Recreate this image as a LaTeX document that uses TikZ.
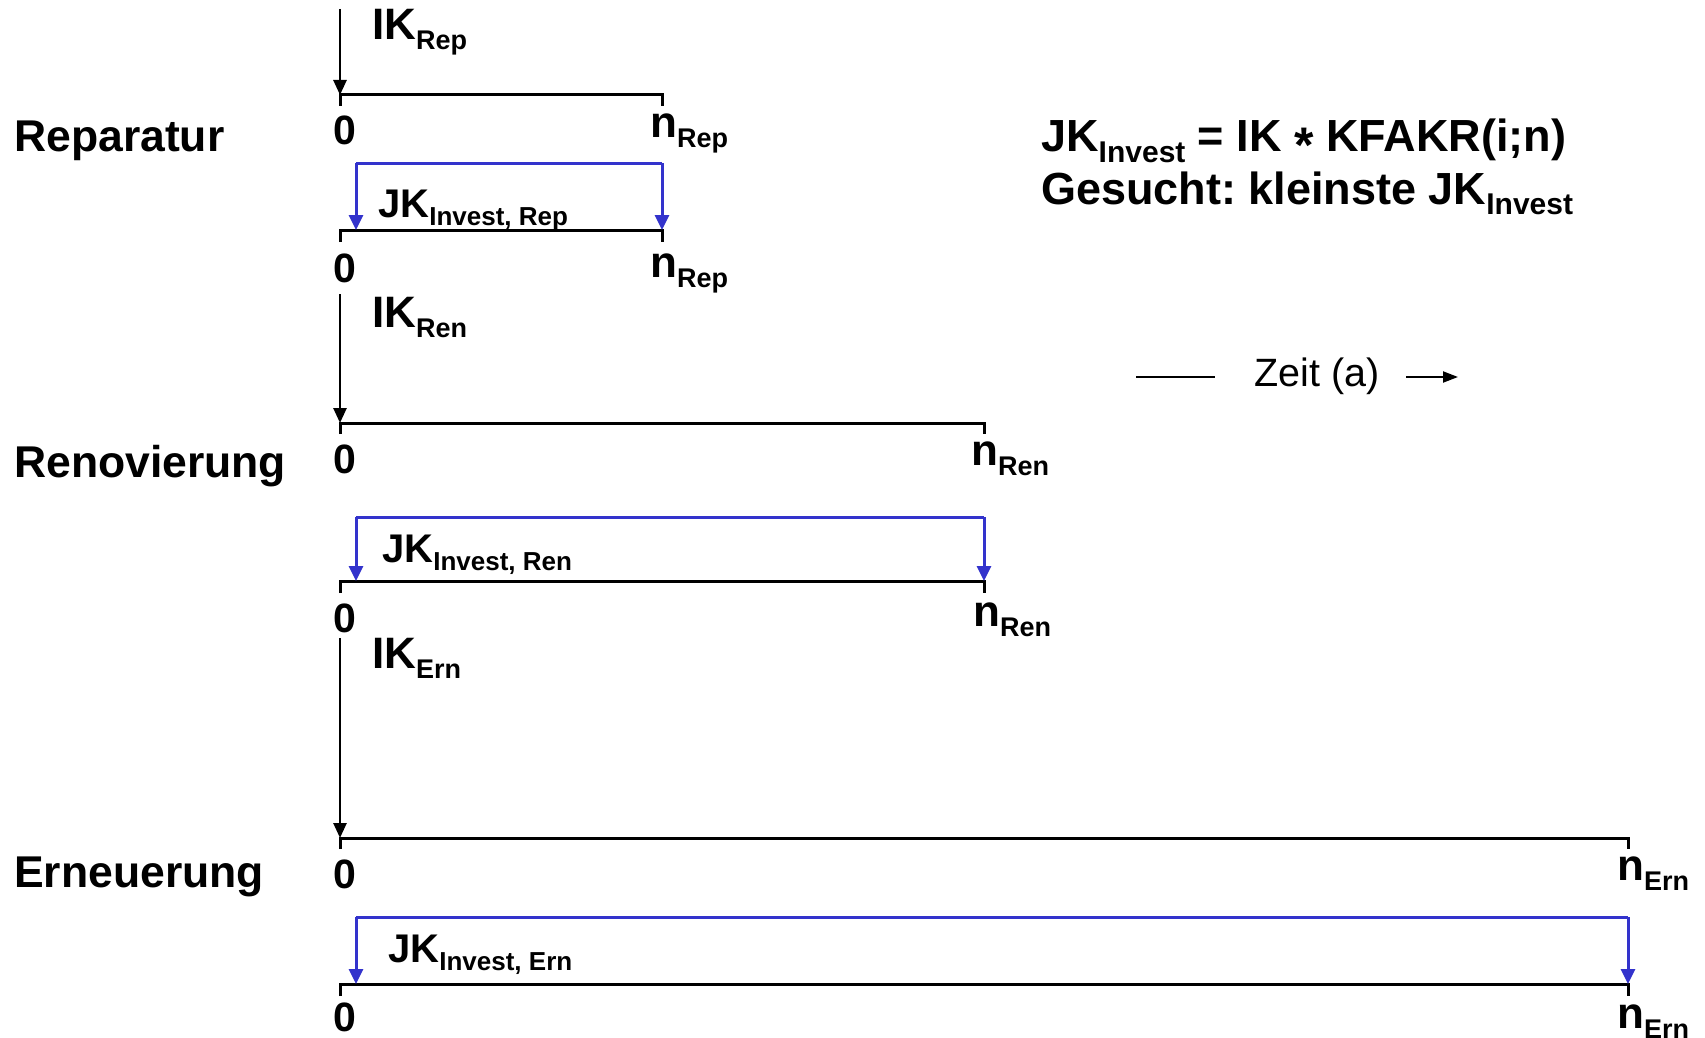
\documentclass[tikz,border=0pt]{standalone}
\usepackage{fontspec}
\setmainfont{Liberation Sans}
\usetikzlibrary{arrows.meta}
\definecolor{jkblue}{RGB}{51,51,204}
\newcommand{\fsz}[1]{\fontsize{#1}{#1}\selectfont}
\newcommand{\withsub}[5]{{\fsz{#1}#2}\raisebox{-#5pt}{\fsz{#3}#4}}
\frenchspacing
\tikzset{
  lbl/.style={anchor=base west, inner sep=0pt, font=\bfseries},
  zero/.style={anchor=base, inner sep=0pt, font=\bfseries\fsz{41}},
  tline/.style={line width=3pt, black},
  ikarrow/.style={line width=2.6pt, black, -{Triangle[length=15pt,width=13pt]}},
  jkline/.style={line width=3pt, jkblue},
  jkarrow/.style={line width=3pt, jkblue, -{Triangle[length=15pt,width=14pt]}},
}
\begin{document}
\begin{tikzpicture}[x=1pt,y=-1pt]
\useasboundingbox (0,0) rectangle (1705,1038);

% ---------- section labels
\node[lbl] (lrep) at (14,152) {\fsz{44.5}Reparatur};
\node[lbl] (lren) at (14,477) {\fsz{44.5}Renovierung};
\node[lbl] (lern) at (14,887) {\fsz{44.5}Erneuerung};

% ---------- Reparatur
\coordinate (r1s) at (340,9);
\coordinate (r1a) at (340,95);
\coordinate (r1b) at (662,95);
\coordinate (r1at) at (340,106);
\coordinate (r1bt) at (662,106);
\draw[tline] (r1at) -- (r1a) -- (r1b) -- (r1bt);
\draw[ikarrow] (r1s) -- (r1a);
\node[lbl] (ikrep) at (372,40) {\withsub{44}{IK}{27}{Rep}{10}};
\node[zero] (r1z) at (345,145) {0};
\node[lbl] (r1n) at (650,138) {\withsub{44}{n}{27}{Rep}{10}};

\coordinate (r2a) at (340,230);
\coordinate (r2b) at (662,230);
\coordinate (r2at) at (340,242);
\coordinate (r2bt) at (662,242);
\coordinate (b1l) at (356,163);
\coordinate (b1r) at (662,163);
\coordinate (b1lt) at (356,230);
\draw[tline] (r2at) -- (r2a) -- (r2b) -- (r2bt);
\draw[jkline] (b1l) -- (b1r);
\draw[jkarrow] (b1l) -- (b1lt);
\draw[jkarrow] (b1r) -- (r2b);
\node[lbl] (jkrep) at (378,217) {\withsub{40}{JK}{26}{Invest, Rep}{8}};
\node[zero] (r2z) at (345,282) {0};
\node[lbl] (r2n) at (650,277) {\withsub{44}{n}{27}{Rep}{10}};

% ---------- Renovierung
\coordinate (n1s) at (340,294);
\coordinate (n1a) at (340,423);
\coordinate (n1b) at (984,423);
\coordinate (n1at) at (340,434);
\coordinate (n1bt) at (984,434);
\draw[tline] (n1at) -- (n1a) -- (n1b) -- (n1bt);
\draw[ikarrow] (n1s) -- (n1a);
\node[lbl] (ikren) at (372,327) {\withsub{44}{IK}{27}{Ren}{10}};
\node[zero] (n1z) at (345,473) {0};
\node[lbl] (n1n) at (971,465) {\withsub{44}{n}{27}{Ren}{10}};

\coordinate (n2a) at (340,581);
\coordinate (n2b) at (984,581);
\coordinate (n2at) at (340,593);
\coordinate (n2bt) at (984,593);
\coordinate (b2l) at (356,517);
\coordinate (b2r) at (984,517);
\coordinate (b2lt) at (356,581);
\draw[tline] (n2at) -- (n2a) -- (n2b) -- (n2bt);
\draw[jkline] (b2l) -- (b2r);
\draw[jkarrow] (b2l) -- (b2lt);
\draw[jkarrow] (b2r) -- (n2b);
\node[lbl] (jkren) at (382,562) {\withsub{40}{JK}{26}{Invest, Ren}{8}};
\node[zero] (n2z) at (345,632) {0};
\node[lbl] (n2n) at (973,626) {\withsub{44}{n}{27}{Ren}{10}};

% ---------- Erneuerung
\coordinate (e1s) at (340,638);
\coordinate (e1a) at (340,838);
\coordinate (e1b) at (1628,838);
\coordinate (e1at) at (340,849);
\coordinate (e1bt) at (1628,849);
\draw[tline] (e1at) -- (e1a) -- (e1b) -- (e1bt);
\draw[ikarrow] (e1s) -- (e1a);
\node[lbl] (ikern) at (372,668) {\withsub{44}{IK}{27}{Ern}{10}};
\node[zero] (e1z) at (345,888) {0};
\node[lbl] (e1n) at (1617,880) {\withsub{44}{n}{27}{Ern}{10}};

\coordinate (e2a) at (340,984);
\coordinate (e2b) at (1628,984);
\coordinate (e2at) at (340,996);
\coordinate (e2bt) at (1628,996);
\coordinate (b3l) at (356,917);
\coordinate (b3r) at (1628,917);
\coordinate (b3lt) at (356,984);
\draw[tline] (e2at) -- (e2a) -- (e2b) -- (e2bt);
\draw[jkline] (b3l) -- (b3r);
\draw[jkarrow] (b3l) -- (b3lt);
\draw[jkarrow] (b3r) -- (e2b);
\node[lbl] (jkern) at (388,962) {\withsub{40}{JK}{26}{Invest, Ern}{8}};
\node[zero] (e2z) at (345,1031) {0};
\node[lbl] (e2n) at (1617,1028) {\withsub{44}{n}{27}{Ern}{10}};

% ---------- formula
\node[lbl] (f1) at (1041,152) {\withsub{45}{JK}{30}{Invest}{10}{\fsz{45} = IK \raisebox{-10pt}{\fsz{50}*} KFAKR(i;n)}};
\node[lbl] (f2) at (1041,204) {\withsub{45}{Gesucht: kleinste JK}{30}{Invest}{10}};

% ---------- time axis legend
\coordinate (zl1) at (1136,377);
\coordinate (zl2) at (1215,377);
\coordinate (za1) at (1406,377);
\coordinate (za2) at (1458,377);
\draw[line width=2pt] (zl1) -- (zl2);
\node[anchor=base west, inner sep=0pt, font=\fsz{39.5}] (zeit) at (1254,386) {Zeit (a)};
\draw[line width=2pt, -{Triangle[length=15pt,width=11pt]}] (za1) -- (za2);
\end{tikzpicture}
\end{document}
